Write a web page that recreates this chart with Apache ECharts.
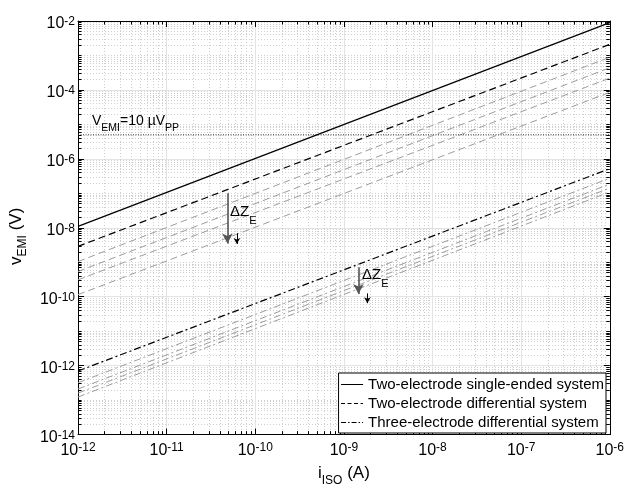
<!DOCTYPE html>
<html><head><meta charset="utf-8">
<script src="https://cdn.jsdelivr.net/npm/echarts@6/dist/echarts.min.js"></script>
<style>html,body{margin:0;padding:0;background:#fff}#c{width:627px;height:492px}</style>
</head><body><div id="c"></div>
<script>
// ---- axis ranges and tick labels ----
const xRange = [1e-12, 1e-6];
const yRange = [1e-14, 1e-2];
const xTickValues = [1e-12, 1e-11, 1e-10, 1e-9, 1e-8, 1e-7, 1e-6];
const yTickValues = [1e-14, 1e-12, 1e-10, 1e-8, 1e-6, 1e-4, 1e-2];

// ---- series (values at i_ISO = 1e-12 A and 1e-6 A) ----
const iIso = [1e-12, 1e-6];
const singleEnded = [1.1e-8, 9.0e-3];
const diffMain = [2.9e-9, 2.1e-3];
const diffGray1 = [1.05e-9, 8.9e-4];
const diffGray2 = [5.4e-10, 4.4e-4];
const diffGray3 = [3.1e-10, 2.2e-4];
const diffGray4 = [1.15e-10, 8.5e-5];
const threeMain = [7.0e-13, 5.2e-7];
const threeGray1 = [3.2e-13, 2.75e-7];
const threeGray2 = [2.1e-13, 1.86e-7];
const threeGray3 = [1.6e-13, 1.42e-7];
const threeGray4 = [1.23e-13, 1.1e-7];
const vLimit = 5e-6; // 10 uVpp

// ---- annotation arrows (data coordinates) ----
const arrowBig1 = [[4.85e-11, 1.0e-7], [4.85e-11, 3.5e-9]];
const arrowSmall1 = [[6.2e-11, 7.0e-9], [6.2e-11, 3.4e-9]];
const arrowBig2 = [[1.46e-9, 7.2e-10], [1.46e-9, 1.2e-10]];
const arrowSmall2 = [[1.84e-9, 1.25e-10], [1.84e-9, 6.5e-11]];

const legendNames = ['Two-electrode single-ended system', 'Two-electrode differential system', 'Three-electrode differential system'];

const FONT = '"Liberation Sans", Arial, Helvetica, sans-serif';

function minorValues(eFrom, eTo, majors) {
  const out = [];
  for (let e = eFrom; e < eTo; e++) {
    for (let k = 1; k <= 9; k++) {
      const v = Number((k * Math.pow(10, e)).toPrecision(3));
      if (k === 1 && majors.some(m => Math.abs(Math.log10(m) - e) < 1e-6)) continue;
      out.push(v);
    }
  }
  return out;
}
const xMinor = minorValues(-12, -6, xTickValues);
const yMinor = minorValues(-14, -2, yTickValues);

const tickRich = {
  b: { fontFamily: FONT, fontSize: 16, lineHeight: 16, verticalAlign: 'bottom', color: '#000' },
  s: { fontFamily: FONT, fontSize: 12, lineHeight: 12, padding: [0, 0, 6, 0], verticalAlign: 'top', color: '#000' }
};
function powLabel(v) {
  const e = Math.round(Math.log10(v));
  return '{b|10}{s|' + e + '}';
}

function makeAxis(pos, kind, values, isX) {
  const major = kind === 'major';
  return {
    type: 'log', logBase: 10, gridIndex: 0, position: pos,
    min: isX ? xRange[0] : yRange[0], max: isX ? xRange[1] : yRange[1],
    axisLine: { show: major, onZero: false, lineStyle: { color: '#000', width: 1 } },
    axisTick: { show: true, inside: true, length: major ? 6 : 3.5, customValues: values, lineStyle: { color: '#000', width: 1 } },
    axisLabel: { show: false },
    splitLine: { show: false },
    minorTick: { show: false }, minorSplitLine: { show: false },
    silent: true
  };
}

const xAxes = [];
const yAxes = [];
const xb = makeAxis('bottom', 'major', xTickValues, true);
xb.axisLabel = { show: true, customValues: xTickValues, formatter: powLabel, rich: tickRich, margin: 7.5, fontFamily: FONT, fontSize: 16, color: '#000', showMinLabel: true, showMaxLabel: true };
xb.splitLine = { show: true, lineStyle: { color: '#e3e3e3', width: 1, type: 'solid' } };
xb.name = '{m|i}{s|ISO}{m| (A)}';
xb.nameLocation = 'middle';
xb.nameGap = 30;
xb.nameTextStyle = { fontFamily: FONT, fontSize: 17, color: '#000', rich: {
  m: { fontFamily: FONT, fontSize: 17, lineHeight: 17, verticalAlign: 'top', color: '#000' },
  s: { fontFamily: FONT, fontSize: 12, lineHeight: 12, padding: [10, 0, 0, 0], verticalAlign: 'top', color: '#000' } } };
xAxes.push(xb);
const xbm = makeAxis('bottom', 'minor', xMinor, true);
xbm.splitLine = { show: true, lineStyle: { color: '#cfcfcf', width: 1, type: [1, 2] } };
xAxes.push(xbm);
xAxes.push(makeAxis('top', 'major', xTickValues, true));
xAxes.push(makeAxis('top', 'minor', xMinor, true));

const yl = makeAxis('left', 'major', yTickValues, false);
yl.axisLabel = { show: true, customValues: yTickValues, formatter: powLabel, rich: tickRich, margin: 3, padding: [6, 0, 0, 0], fontFamily: FONT, fontSize: 16, color: '#000', showMinLabel: true, showMaxLabel: true };
yl.splitLine = { show: true, lineStyle: { color: '#e3e3e3', width: 1, type: 'solid' } };
yl.name = '{m|v}{s|EMI}{m| (V)}';
yl.nameLocation = 'middle';
yl.nameRotate = 90;
yl.nameGap = 40;
yl.nameTextStyle = { fontFamily: FONT, fontSize: 17, color: '#000', padding: [0, 17, 0, 0], rich: {
  m: { fontFamily: FONT, fontSize: 17, lineHeight: 17, verticalAlign: 'top', color: '#000' },
  s: { fontFamily: FONT, fontSize: 12, lineHeight: 12, padding: [9, 0, 0, 0], verticalAlign: 'top', color: '#000' } } };
yAxes.push(yl);
const ylm = makeAxis('left', 'minor', yMinor, false);
ylm.splitLine = { show: true, lineStyle: { color: '#cfcfcf', width: 1, type: [1, 2] } };
yAxes.push(ylm);
yAxes.push(makeAxis('right', 'major', yTickValues, false));
yAxes.push(makeAxis('right', 'minor', yMinor, false));

function pts(vals) { return iIso.map((x, i) => [x, vals[i]]); }
function lineSeries(name, vals, color, width, type, z) {
  return {
    name: name, type: 'line', data: pts(vals), xAxisIndex: 0, yAxisIndex: 0,
    showSymbol: false, symbol: 'none', smooth: false, silent: true, z: z,
    lineStyle: { color: color, width: width, type: type }, itemStyle: { color: color },
    emphasis: { disabled: true }
  };
}
const DASH = [7, 4];
const DASHDOT = [7, 3, 2, 3];
const GRAY = '#9c9c9c';

function arrowSeries(seg, color, width, size) {
  return {
    type: 'line', data: [], xAxisIndex: 0, yAxisIndex: 0, silent: true, z: 6,
    markLine: {
      silent: true, animation: false, symbol: ['none', 'arrow'], symbolSize: size,
      label: { show: false },
      lineStyle: { color: color, width: width, type: 'solid' },
      emphasis: { disabled: true },
      data: [[{ coord: seg[0] }, { coord: seg[1] }]]
    }
  };
}

const series = [
  lineSeries('g1', diffGray1, GRAY, 1, DASH, 3),
  lineSeries('g2', diffGray2, GRAY, 1, DASH, 3),
  lineSeries('g3', diffGray3, GRAY, 1, DASH, 3),
  lineSeries('g4', diffGray4, GRAY, 1, DASH, 3),
  lineSeries('h1', threeGray1, GRAY, 1, DASHDOT, 3),
  lineSeries('h2', threeGray2, GRAY, 1, DASHDOT, 3),
  lineSeries('h3', threeGray3, GRAY, 1, DASHDOT, 3),
  lineSeries('h4', threeGray4, GRAY, 1, DASHDOT, 3),
  lineSeries('limit', [vLimit, vLimit], '#333', 1, [1, 1.5], 3),
  lineSeries(legendNames[0], singleEnded, '#000', 1.2, 'solid', 4),
  lineSeries(legendNames[1], diffMain, '#000', 1.2, DASH, 4),
  lineSeries(legendNames[2], threeMain, '#000', 1.2, DASHDOT, 4),
  arrowSeries(arrowBig1, '#555', 1.6, [8, 10]),
  arrowSeries(arrowSmall1, '#000', 1, [5, 6]),
  arrowSeries(arrowBig2, '#555', 1.6, [8, 10]),
  arrowSeries(arrowSmall2, '#000', 1, [5, 6])
];

const annRich = {
  m: { fontFamily: FONT, fontSize: 14, lineHeight: 14, verticalAlign: 'top', fill: '#000', color: '#000' },
  s: { fontFamily: FONT, fontSize: 10.5, lineHeight: 11, padding: [8.5, 0, 0, 0], verticalAlign: 'top', fill: '#000', color: '#000' }
};
const dzRich = {
  m: { fontFamily: FONT, fontSize: 15, lineHeight: 15, verticalAlign: 'top', fill: '#000', color: '#000' },
  s: { fontFamily: FONT, fontSize: 11, lineHeight: 11, padding: [11, 0, 0, 0], verticalAlign: 'top', fill: '#000', color: '#000' }
};

const legendTypes = ['solid', [4, 2.5], [5, 2, 1.5, 2]];
const chart = echarts.init(document.getElementById('c'), null, { renderer: 'canvas' });
chart.setOption({
  animation: false,
  backgroundColor: '#fff',
  grid: { left: 69, right: 13, top: 21, bottom: 52, containLabel: false },
  xAxis: xAxes,
  yAxis: yAxes,
  legend: {
    data: legendNames.map((n, i) => ({
      name: n,
      itemStyle: { opacity: 0, color: 'rgba(0,0,0,0)', borderWidth: 0 },
      lineStyle: { color: '#000', width: 1, type: legendTypes[i] }
    })),
    orient: 'vertical', right: 21, top: 373,
    itemWidth: 22, itemHeight: 14, itemGap: 4,
    padding: [4, 2, 3, 2],
    backgroundColor: '#fff', borderColor: '#000', borderWidth: 1, borderRadius: 0,
    textStyle: { fontFamily: FONT, fontSize: 15, color: '#000', lineHeight: 15 },
    selectedMode: false, z: 10
  },
  series: series,
  graphic: [
    { type: 'text', x: 92, y: 114.5, z: 20, silent: true, style: { text: '{m|V}{s|EMI}{m|=10 µV}{s|PP}', rich: annRich, fill: '#000', align: 'left', verticalAlign: 'top' } },
    { type: 'text', x: 230, y: 204.5, z: 20, silent: true, style: { text: '{m|ΔZ}{s|E}', rich: dzRich, fill: '#000', align: 'left', verticalAlign: 'top' } },
    { type: 'text', x: 362, y: 267.5, z: 20, silent: true, style: { text: '{m|ΔZ}{s|E}', rich: dzRich, fill: '#000', align: 'left', verticalAlign: 'top' } }
  ]
});
</script>
</body></html>
